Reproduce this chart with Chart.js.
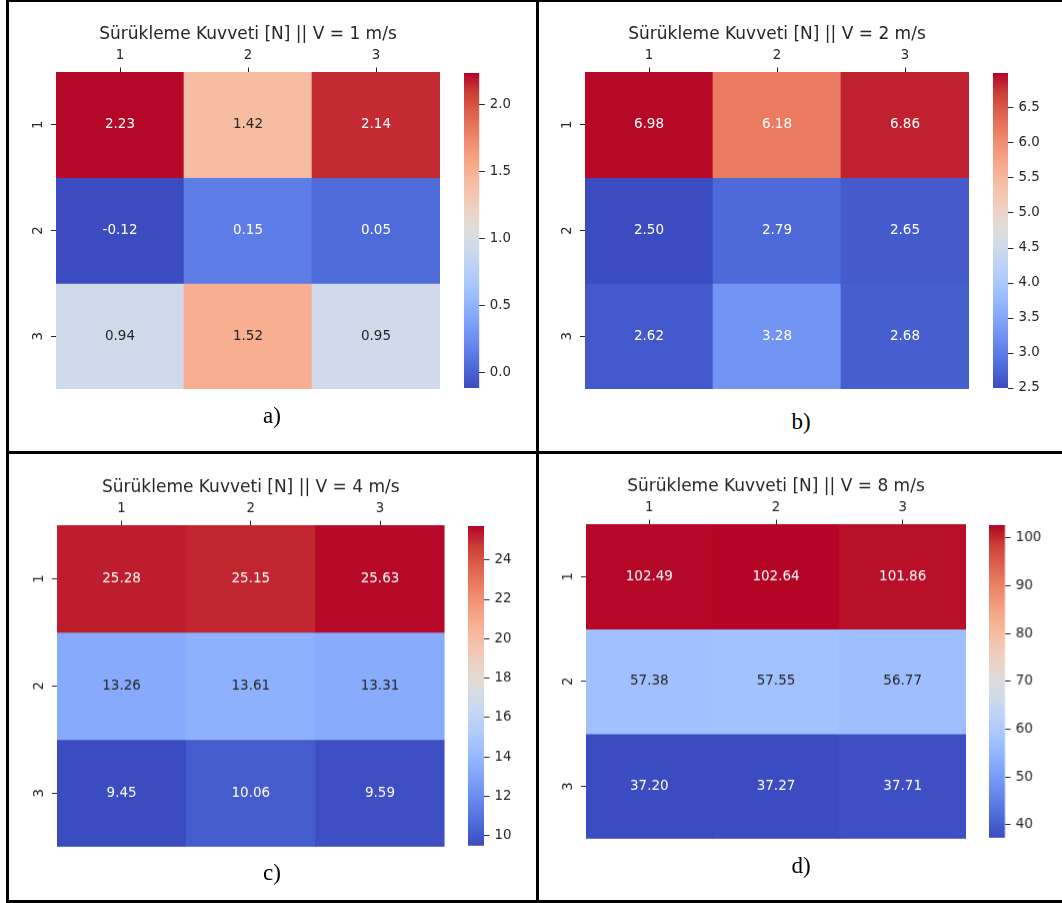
<!DOCTYPE html>
<html><head><meta charset="utf-8">
<script src="https://cdn.jsdelivr.net/npm/chart.js@4"></script>
<style>
html,body{margin:0;padding:0;background:#fff;}
body{width:1062px;height:903px;position:relative;overflow:hidden;}
.box{position:absolute;}
.line{position:absolute;background:#000;}
.lbl{position:absolute;font-family:'Liberation Serif','Times New Roman',serif;font-size:23px;line-height:1;color:#000;transform:translate(-50%,-50%);white-space:nowrap;}
</style></head>
<body>
<div class="line" style="left:6px;top:0;width:1056px;height:2px"></div>
<div class="line" style="left:6px;top:0;width:2.5px;height:903px"></div>
<div class="line" style="left:536px;top:0;width:3px;height:903px"></div>
<div class="line" style="left:6px;top:451px;width:1056px;height:3px"></div>
<div class="line" style="left:6px;top:900px;width:1056px;height:3px"></div>
<script>
// ---- data ----
const rowLabels = ['1', '2', '3'];
const colLabels = ['1', '2', '3'];
const speeds = [1, 2, 4, 8];
const panelLetters = ['a)', 'b)', 'c)', 'd)'];
const dragV1 = [[2.23, 1.42, 2.14], [-0.12, 0.15, 0.05], [0.94, 1.52, 0.95]];
const dragV2 = [[6.98, 6.18, 6.86], [2.50, 2.79, 2.65], [2.62, 3.28, 2.68]];
const dragV4 = [[25.28, 25.15, 25.63], [13.26, 13.61, 13.31], [9.45, 10.06, 9.59]];
const dragV8 = [[102.49, 102.64, 101.86], [57.38, 57.55, 56.77], [37.20, 37.27, 37.71]];
const cbarRangeV1 = [-0.113, 2.237];
const cbarRangeV2 = [2.50, 7.00];
const cbarRangeV4 = [9.49, 25.72];
const cbarRangeV8 = [37.3, 102.7];
const cbarTicksV1 = [0.0, 0.5, 1.0, 1.5, 2.0];
const cbarTicksV2 = [2.5, 3.0, 3.5, 4.0, 4.5, 5.0, 5.5, 6.0, 6.5];
const cbarTicksV4 = [10, 12, 14, 16, 18, 20, 22, 24];
const cbarTicksV8 = [40, 50, 60, 70, 80, 90, 100];
const cbarDecimals = [1, 1, 0, 0];

// ---- layout (positions only) ----
const geom = [
  {heat: [56, 72.3, 440, 389.3], cbar: [464, 479.3], label: [272, 414.7]},
  {heat: [585, 72.3, 969, 389.3], cbar: [993.3, 1008.3], label: [801, 421]},
  {heat: [56.7, 525, 444.3, 845.7], cbar: [468.3, 484.3], label: [272, 872]},
  {heat: [585.7, 524.3, 965.7, 838], cbar: [989.3, 1005], label: [801, 864.7]}
];

// ---- coolwarm colormap ----
const CW = [
  [59,76,192],[77,104,215],[98,130,234],[119,154,247],[141,176,254],[163,194,255],
  [184,208,249],[204,217,238],[221,220,220],[236,211,197],[245,196,173],[247,177,148],
  [244,154,123],[236,127,99],[222,96,77],[203,62,56],[180,4,38]
];
function cwRGB(t) {
  t = Math.max(0, Math.min(1, t));
  const p = t * (CW.length - 1), i = Math.min(Math.floor(p), CW.length - 2), f = p - i;
  return CW[i].map((c, k) => Math.round(c + (CW[i + 1][k] - c) * f));
}
const rgbStr = c => `rgb(${c[0]},${c[1]},${c[2]})`;
function lum(c) {
  const l = c.map(v => { v /= 255; return v <= 0.03928 ? v / 12.92 : Math.pow((v + 0.055) / 1.055, 2.4); });
  return 0.2126 * l[0] + 0.7152 * l[1] + 0.0722 * l[2];
}

const TXT = '#262626';
const FONT = 'DejaVu Sans';
Chart.defaults.font.family = FONT;

function makeBox(l, t, w, h) {
  const d = document.createElement('div');
  d.className = 'box';
  d.style.left = l + 'px'; d.style.top = t + 'px';
  d.style.width = w + 'px'; d.style.height = h + 'px';
  const c = document.createElement('canvas');
  d.appendChild(c);
  document.body.appendChild(d);
  return c;
}

function makeHeatmap(values, range, title, g) {
  const [x0, y0, x1, y1] = g.heat;
  const AX = 50, TOP = 72, BOT = 18;
  const cv = makeBox(x0 - AX, y0 - TOP, x1 - x0 + 2 * AX, y1 - y0 + TOP + BOT);
  const norm = v => (v - range[0]) / (range[1] - range[0]);
  const datasets = rowLabels.map((r, i) => ({
    label: r,
    data: colLabels.map((c, j) => ({x: c, y: [i, i + 1], v: values[i][j]})),
    backgroundColor: ctx => ctx.raw ? rgbStr(cwRGB(norm(ctx.raw.v))) : '#000',
    borderWidth: 0, grouped: false, categoryPercentage: 1, barPercentage: 1
  }));
  const annot = {
    id: 'annot',
    afterDatasetsDraw(chart) {
      const ctx = chart.ctx;
      ctx.save();
      ctx.font = `13.5px "${FONT}"`;
      ctx.textAlign = 'center'; ctx.textBaseline = 'middle';
      chart.data.datasets.forEach((ds, i) => {
        chart.getDatasetMeta(i).data.forEach((el, j) => {
          const v = ds.data[j].v;
          ctx.fillStyle = lum(cwRGB(norm(v))) > 0.408 ? TXT : '#ffffff';
          ctx.fillText(v.toFixed(2), el.x, (el.y + el.base) / 2);
        });
      });
      ctx.restore();
    }
  };
  new Chart(cv, {
    type: 'bar',
    data: {labels: colLabels, datasets},
    options: {
      responsive: true, maintainAspectRatio: false, animation: false, devicePixelRatio: 1,
      layout: {padding: {left: 0, right: AX, top: 0, bottom: BOT}},
      plugins: {
        legend: {display: false}, tooltip: {enabled: false},
        title: {display: true, text: title, color: TXT, fullSize: false,
          font: {family: FONT, size: 17, weight: 'normal'}, padding: {top: 24.3, bottom: 0.3}}
      },
      scales: {
        x: {type: 'category', position: 'top', offset: true,
          grid: {display: true, drawOnChartArea: false, drawTicks: true, tickLength: 4.5, offset: false, color: TXT, lineWidth: 1},
          border: {display: false},
          ticks: {color: TXT, font: {family: FONT, size: 13.3}, padding: 4.1, maxRotation: 0, autoSkip: false},
          afterFit: s => { s.height = 27; }},
        y: {type: 'linear', reverse: true, min: 0, max: 3,
          grid: {display: true, drawOnChartArea: false, drawTicks: true, tickLength: 5, color: TXT, lineWidth: 1},
          border: {display: false},
          ticks: {color: TXT, font: {family: FONT, size: 13.3}, minRotation: 90, maxRotation: 90,
            crossAlign: 'center', padding: 8, autoSkip: false, callback: (v, i) => rowLabels[i]},
          afterBuildTicks: s => { s.ticks = rowLabels.map((r, i) => ({value: i + 0.5})); },
          afterFit: s => { s.width = AX; }}
      }
    },
    plugins: [annot]
  });
}

function makeColorbar(range, ticks, decimals, g) {
  const [cx0, cx1] = g.cbar;
  const y0 = g.heat[1], y1 = g.heat[3];
  const AX = 50, PAD = 12;
  const cv = makeBox(cx0, y0 - PAD, cx1 - cx0 + AX, y1 - y0 + 2 * PAD);
  new Chart(cv, {
    type: 'bar',
    data: {labels: ['cb'], datasets: [{
      data: [range],
      backgroundColor: ctx => {
        const a = ctx.chart.chartArea;
        if (!a) return '#888';
        const gr = ctx.chart.ctx.createLinearGradient(0, a.bottom, 0, a.top);
        CW.forEach((c, i) => gr.addColorStop(i / (CW.length - 1), rgbStr(c)));
        return gr;
      },
      borderWidth: 0, categoryPercentage: 1, barPercentage: 1
    }]},
    options: {
      responsive: true, maintainAspectRatio: false, animation: false, devicePixelRatio: 1,
      layout: {padding: {left: 0, right: 0, top: PAD, bottom: PAD}},
      plugins: {legend: {display: false}, tooltip: {enabled: false}},
      scales: {
        x: {display: false},
        y: {type: 'linear', position: 'right', min: range[0], max: range[1],
          grid: {display: true, drawOnChartArea: false, drawTicks: true, tickLength: 5.5, color: TXT, lineWidth: 1},
          border: {display: false},
          ticks: {color: TXT, font: {family: FONT, size: 13.3}, padding: 5, autoSkip: false,
            callback: v => Number(v).toFixed(decimals)},
          afterBuildTicks: s => { s.ticks = ticks.map(v => ({value: v})); },
          afterFit: s => { s.width = AX; }}
      }
    }
  });
}

const allValues = [dragV1, dragV2, dragV4, dragV8];
const allRanges = [cbarRangeV1, cbarRangeV2, cbarRangeV4, cbarRangeV8];
const allTicks = [cbarTicksV1, cbarTicksV2, cbarTicksV4, cbarTicksV8];

speeds.forEach((sp, k) => {
  const title = `Sürükleme Kuvveti [N] || V = ${sp} m/s`;
  makeHeatmap(allValues[k], allRanges[k], title, geom[k]);
  makeColorbar(allRanges[k], allTicks[k], cbarDecimals[k], geom[k]);
  const lb = document.createElement('div');
  lb.className = 'lbl';
  lb.textContent = panelLetters[k];
  lb.style.left = geom[k].label[0] + 'px';
  lb.style.top = geom[k].label[1] + 'px';
  document.body.appendChild(lb);
});
</script>
</body></html>
